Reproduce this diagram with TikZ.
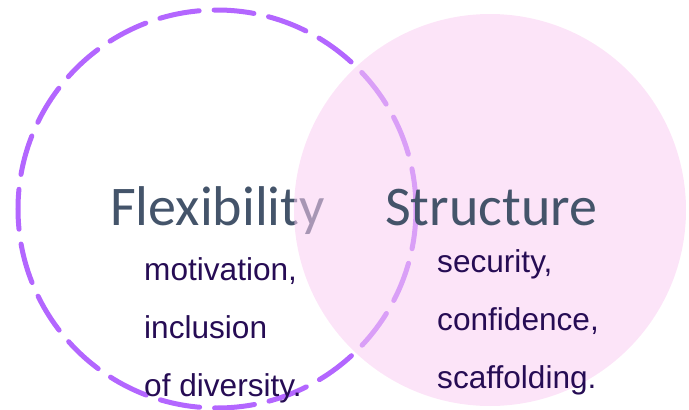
\documentclass[tikz,border=0pt]{standalone}
\usepackage{fontspec}
\setmainfont{Liberation Sans}
\newfontfamily\titlefont{Carlito}
\usetikzlibrary{positioning}
\definecolor{ringviolet}{RGB}{179,102,255}
\definecolor{blushpink}{RGB}{250,206,242}
\definecolor{titlegray}{RGB}{68,84,106}
\definecolor{wordpurple}{RGB}{38,12,84}
\tikzset{
	title/.style={anchor=base west,inner sep=0pt,text=titlegray,font=\titlefont\fontsize{56}{67}\selectfont},
	word/.style={anchor=base west,inner sep=0pt,text=wordpurple,font=\fontsize{31.6}{38}\selectfont}
}
\begin{document}
\begin{tikzpicture}[x=1pt,y=-1pt]
		\useasboundingbox (0,0) rectangle (689,410);
		\draw[ringviolet,line width=5pt,line cap=round,dash pattern=on 40pt off 15pt] (217,209) circle (199);

		\node[title] (flex) at (110,225) {Flexibility};
		\node[word] (motiv) at (144,280) {motivation,};
		\node[word] (incl) at (144,338) {inclusion};
		\node[word] (divers) at (144,396) {of diversity.};

		\fill[blushpink,fill opacity=0.55] (490,210) circle (196);

		\node[title] (struct) at (385,225) {Structure};
		\node[word] (secur) at (437,272) {security,};
		\node[word] (confid) at (437,330) {confidence,};
		\node[word] (scaff) at (437,388) {scaffolding.};
	\end{tikzpicture}
\end{document}
